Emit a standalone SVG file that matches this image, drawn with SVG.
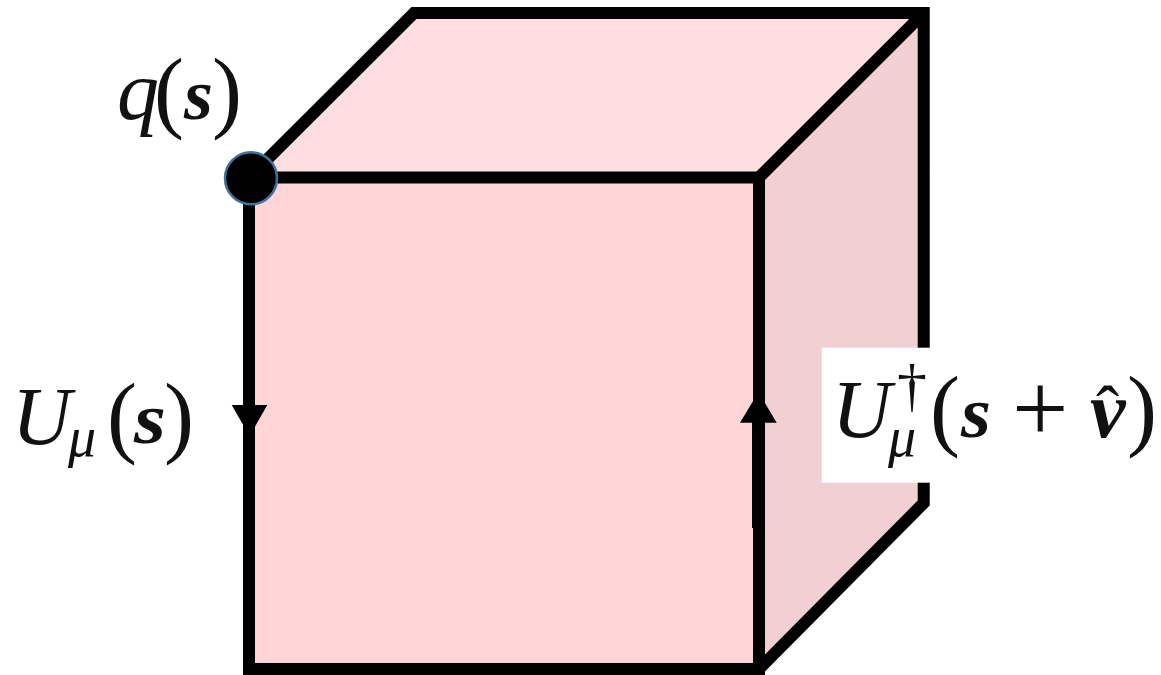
<svg xmlns="http://www.w3.org/2000/svg" width="1161" height="675" viewBox="0 0 1161 675">
<style>
.edge{fill:none;stroke:#000;stroke-width:12;stroke-linejoin:miter;stroke-linecap:square}
.m{font-family:"Liberation Serif","Times New Roman",serif;fill:#111}
.i{font-style:italic}
.b{font-style:italic;font-weight:bold}
.cap{font-size:82px}
.q{font-size:84px}
.s{font-size:72px}
.sub{font-size:56px}
.paren{font-size:90px}
</style>
<rect width="1161" height="675" fill="#fff"/>
<g id="faces">
<polygon id="face-top" points="249,177.5 414,13 923.7,13 759,177.5" fill="#ffdee0"/>
<polygon id="face-right" points="759,177.5 923.7,13 923.7,503 759,669" fill="#f0d0d2"/>
<rect id="face-front" x="249" y="177.5" width="510" height="491.5" fill="#ffd5d7"/>
</g>
<g id="connectors">
<path class="edge" d="M249,177.5 L414,13 H923.7 V503 L759,669 H249 V177.5 H759 V669"/>
<path class="edge" style="stroke-linecap:butt" d="M759,177.5 L923.7,13"/>
<rect x="752" y="420" width="3" height="108" fill="#000"/>
<polygon id="arrow-down" points="231.7,405 267.3,405 249.5,436" fill="#000"/>
<polygon id="arrow-up" points="740,422.7 776.7,422.7 758.5,392" fill="#000"/>
</g>
<g id="node-q">
<circle cx="251" cy="178.3" r="26" fill="#000" stroke="#41719c" stroke-width="2.5"/>
<text class="m i q" x="117" y="119">q</text>
<text class="m paren" x="154" y="121">(</text>
<text class="m b s" x="184" y="119" textLength="29" lengthAdjust="spacingAndGlyphs">s</text>
<text class="m paren" x="212" y="121">)</text>
</g>
<g id="label-u">
<text class="m i cap" x="12" y="444">U</text>
<text class="m i sub" x="68" y="456">μ</text>
<text class="m paren" x="107" y="446">(</text>
<text class="m b s" x="134" y="443" textLength="32" lengthAdjust="spacingAndGlyphs">s</text>
<text class="m paren" x="164" y="446">)</text>
</g>
<g id="label-udag">
<rect x="821.7" y="347.7" width="339.3" height="135" fill="#fff"/>
<text class="m i cap" x="832" y="437">U</text>
<text class="m sub" x="912" y="405" text-anchor="middle" style="font-size:60px">†</text>
<text class="m i sub" x="888" y="456">μ</text>
<text class="m paren" x="930" y="439">(</text>
<text class="m b s" x="961" y="437" textLength="30" lengthAdjust="spacingAndGlyphs">s</text>
<text class="m" x="1012" y="442" style="font-size:100px">+</text>
<text class="m b" x="1090" y="437" style="font-size:80px">ν<tspan x="1096" y="434" style="font-size:70px;font-weight:normal;font-style:normal">ˆ</tspan></text>
<text class="m paren" x="1127" y="439">)</text>
</g>
</svg>
